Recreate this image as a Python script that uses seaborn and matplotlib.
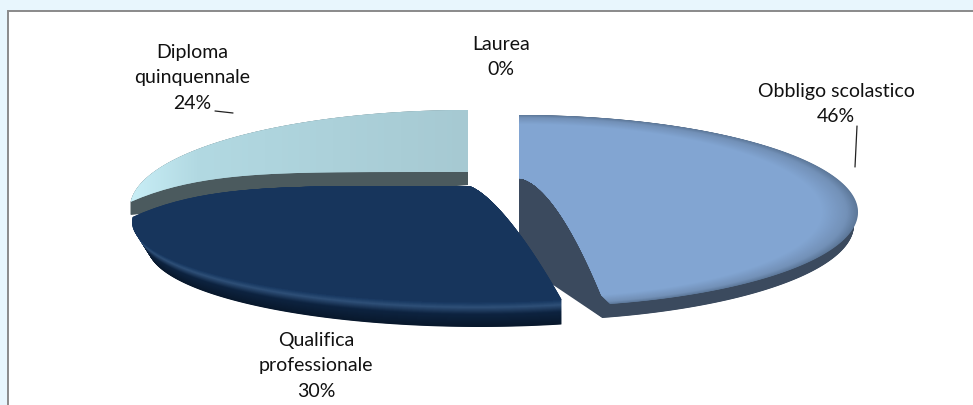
import numpy as np
import matplotlib
matplotlib.use("Agg")
import matplotlib.pyplot as plt
from matplotlib.colors import LinearSegmentedColormap, to_rgb
from matplotlib.patches import Rectangle
from matplotlib.path import Path
from matplotlib.transforms import Transform
import seaborn as sns

# === Data ===
categories = ["Obbligo scolastico", "Qualifica\nprofessionale", "Diploma\nquinquennale", "Laurea"]
values = [46, 30, 24, 0]

sns.set_theme(style="white")
plt.rcParams["font.family"] = ["Lato", "DejaVu Sans"]


# squashes a unit pie wedge on to an off-centre ellipse (fake 3D look of the original)
class PieWarp(Transform):
    input_dims = 2
    output_dims = 2
    is_affine = False

    def __init__(self, apex, centre, axes, powers=(1.0, 1.0), skew=0.0):
        super().__init__()
        self.apex = apex
        self.centre = centre
        self.axes_len = axes
        self.powers = powers
        self.skew = skew

    def transform_non_affine(self, xy):
        xy = np.asarray(xy, dtype=float)
        r = np.hypot(xy[:, 0], xy[:, 1])
        safe = np.where(r == 0, 1, r)
        s, c = xy[:, 0] / safe, xy[:, 1] / safe
        rim_x = self.centre[0] + self.axes_len[0] * s + self.skew * (1 - c) / 2
        rim_y = self.centre[1] - self.axes_len[1] * c
        p = np.where(s < 0, self.powers[0], self.powers[1])
        x = self.apex[0] + r * (rim_x - self.apex[0])
        y = self.apex[1] + r ** p * (rim_y - self.apex[1])
        return np.column_stack([x, y])

    def transform_path_non_affine(self, path):
        pts = []
        for seg, code in path.iter_bezier():
            if code == Path.MOVETO:
                continue
            pts.append(seg(np.linspace(0, 1, 32)))
        return Path(self.transform_non_affine(np.vstack(pts)))


fig = plt.figure(figsize=(9.73, 4.05), dpi=100, facecolor="#E8F6FD")
ax = fig.add_axes([0, 0, 1, 1])


def draw_slice(idx, warp, color):
    wedges, _ = ax.pie(values, startangle=90, counterclock=False, frame=True,
                       colors=[color] * len(values), wedgeprops={"linewidth": 0})
    for i, w in enumerate(wedges):
        if i == idx:
            w.set_transform(warp + ax.transData)
            w.set_clip_on(False)
        else:
            w.remove()
    return wedges[idx]


def ramp(stops, t):
    pos = np.array([s[0] for s in stops])
    rgb = np.array([to_rgb(s[1]) for s in stops])
    return tuple(np.interp(t, pos, rgb[:, k]) for k in range(3))


def draw_side(idx, apex, centre, axes, powers, apex_drop, rim_drop, stops, shrink=0, skew=0, relax=False, steps=40):
    # extrude downwards, lowest layer first; t=1 is the bottom
    for t in np.linspace(1, 0, steps):
        p = powers
        if relax:
            p = tuple(1 + (q - 1) * (1 - t) for q in powers)
        warp = PieWarp((apex[0], apex[1] + t * apex_drop), (centre[0], centre[1] + t * rim_drop),
                       (axes[0] - shrink * t, axes[1]), p, skew * t)
        draw_slice(idx, warp, ramp(stops, t))


# === Panel ===
ax.add_patch(Rectangle((8, 11), 1000, 500, facecolor="white", edgecolor="#8a8a8a", linewidth=1.4, zorder=0))

# === Diploma (back left) ===
d_apex, d_centre, d_axes, d_pow = (468, 172), (468, 208), (338, 98), (5, 5)
draw_side(2, d_apex, d_centre, d_axes, d_pow, 13, 13, [(0, "#4b5a5e"), (1, "#4b5a5e")], relax=True)
top = draw_slice(2, PieWarp(d_apex, d_centre, d_axes, d_pow), "#a9cdd6")
grad = np.linspace(0, 1, 256).reshape(1, -1)
cmap = LinearSegmentedColormap.from_list("dip", [(0, "#c9eff7"), (0.2, "#b2d9e2"), (1, "#a6c9d2")])
im = ax.imshow(grad, extent=(128, 470, 215, 108), cmap=cmap, aspect="auto", zorder=1.5)
im.set_clip_path(top)

# === Obbligo (right, pulled out) ===
o_apex, o_centre, o_axes, o_pow = (519, 178), (519, 211), (335, 96), (1.7, 1.7)
draw_side(0, o_apex, o_centre, o_axes, o_pow, 84, 14, [(0, "#3b4a5e"), (1, "#3b4a5e")], relax=True)
o_stops = [(0, "#5d7899"), (0.3, "#7391b8"), (1, "#82a5d2")]
for t in np.linspace(0, 1, 60):
    warp = PieWarp(o_apex, o_centre, (o_axes[0] - 36 * t, o_axes[1] - 9 * t), o_pow, skew=8)
    draw_slice(0, warp, ramp(o_stops, t))

# === Qualifica (front) ===
q_apex, q_centre, q_axes, q_pow = (468, 186), (476, 222), (344, 80), (5, 1.45)
q_stops = [(0, "#17355c"), (0.08, "#1c3d66"), (0.22, "#2f5078"), (0.5, "#0d2340"), (1, "#08182c")]
draw_side(1, q_apex, q_centre, q_axes, q_pow, 0, 25, q_stops, shrink=14, skew=3.5, steps=50)
draw_slice(1, PieWarp(q_apex, q_centre, q_axes, q_pow), "#17355c")

# === Labels ===
label_pos = [(836, 104), (316, 366), (192, 78), (501, 57)]
for name, val, (x, y) in zip(categories, values, label_pos):
    ax.text(x, y, f"{name}\n{val}%", ha="center", va="center", fontsize=14, color="#111111",
            linespacing=1.62, zorder=5)

ax.plot([215, 233], [111, 113], color="#222222", lw=0.9, zorder=5)
ax.plot([857, 855], [126, 167], color="#222222", lw=0.9, zorder=5)

ax.set_aspect("auto")
ax.set_xlim(0, 973)
ax.set_ylim(405, 0)
ax.axis("off")

fig.savefig("out.png", dpi=100, facecolor=fig.get_facecolor())
